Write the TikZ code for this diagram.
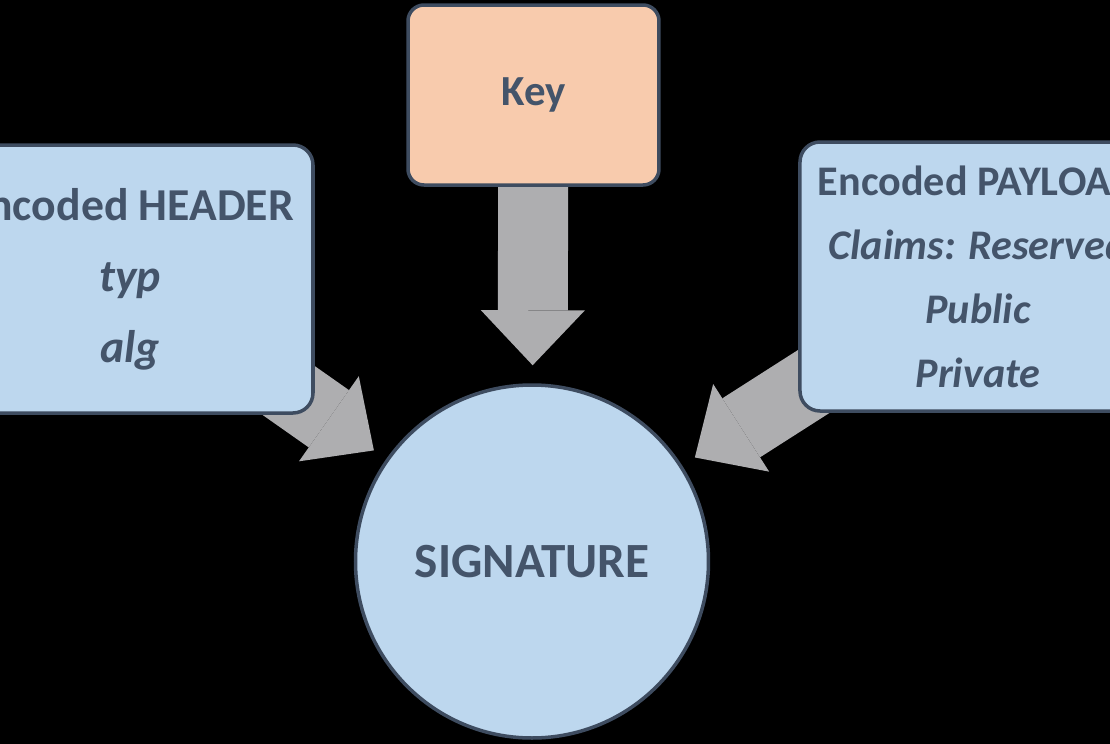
\documentclass[tikz,border=0pt]{standalone}
\usepackage{fontspec}
\setmainfont{Carlito}
\usetikzlibrary{arrows.meta, positioning}
\pgfdeclarelayer{background}
\pgfsetlayers{background,main}
\definecolor{boxblue}{HTML}{BDD7EE}
\definecolor{keypeach}{HTML}{F8CBAD}
\definecolor{slate}{HTML}{44546A}
\definecolor{rim}{HTML}{3E4C60}
\definecolor{pipe}{HTML}{AEAEB0}
\tikzset{
    infobox/.style={
        rectangle, draw=rim, line width=0.035cm, rounded corners=0.2cm,
        fill=boxblue, text=slate, align=center,
        font=\fontsize{13}{20.2}\selectfont\bfseries
    },
    keybox/.style={
        infobox, fill=keypeach, rounded corners=0.16cm,
        font=\fontsize{12.2}{15}\selectfont\bfseries
    },
    sigcircle/.style={
        circle, draw=rim, line width=0.035cm,
        fill=boxblue, text=slate, inner sep=0pt,
        font=\fontsize{14}{17}\selectfont\bfseries
    },
    bigarrow/.style={
        draw=pipe, line width=0.70cm,
        -{Triangle[width=1.04cm, length=0.55cm, line width=0pt]}
    }
}

\begin{document}
\begin{tikzpicture}

\useasboundingbox (0,0) rectangle (11.1,-7.44);

% Inputs and result
\node[keybox, minimum width=2.51cm, minimum height=1.80cm] (key) at (5.335,-0.95) {Key};
\node[infobox, minimum width=3.66cm, minimum height=2.68cm] (hdr) at (1.30,-2.79)
    {Encoded HEADER\\ \itshape typ\\ \itshape alg};
\node[infobox, minimum width=3.56cm, minimum height=2.69cm,
      font=\fontsize{12}{18.2}\selectfont\bfseries] (pay) at (9.78,-2.765)
    {Encoded PAYLOAD\\ \itshape Claims: Reserved\\ \itshape Public\\ \itshape Private};
\node[sigcircle, minimum size=3.53cm] (sig) at (5.32,-5.615) {SIGNATURE};

% Backdrop and arrows behind the boxes
\begin{pgfonlayer}{background}
\fill[black] (0,0) rectangle (11.1,-7.44);
\draw[bigarrow, shorten >=0.18cm] (key) -- (sig);
\draw[bigarrow, shorten >=0.15cm] (hdr.center) -- (sig);
\draw[bigarrow, shorten >=0.15cm] (pay.center) -- (sig);
\end{pgfonlayer}

\end{tikzpicture}
\end{document}
